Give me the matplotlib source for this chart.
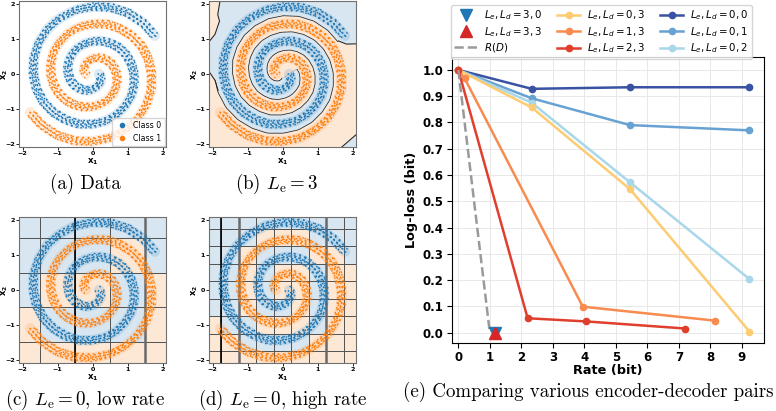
import numpy as np
import matplotlib.pyplot as plt
from matplotlib.colors import ListedColormap
from matplotlib.lines import Line2D
from matplotlib.transforms import ScaledTranslation

W, H, DPI = 776, 411, 100

# spiral arm centre lines
blue_x = [1.78, 1.46, 1.01, 0.51, 0.00, -0.49, -0.93, -1.29, -1.54, -1.68, -1.69, -1.60,
          -1.40, -1.11, -0.76, -0.39, 0.00, 0.36, 0.68, 0.93, 1.11, 1.19, 1.19, 1.11, 0.96,
          0.76, 0.51, 0.26, 0.00, -0.23, -0.43, -0.58, -0.67, -0.71, -0.69, -0.63, -0.53,
          -0.40, -0.26, -0.13, 0.00, 0.10, 0.18, 0.23, 0.24, 0.23, 0.19]
blue_y = [1.10, 1.46, 1.76, 1.92, 1.94, 1.84, 1.61, 1.29, 0.89, 0.45, 0.00, -0.43,
          -0.81, -1.11, -1.32, -1.44, -1.44, -1.36, -1.18, -0.93, -0.64, -0.32, 0.00, 0.30, 0.56,
          0.76, 0.89, 0.95, 0.94, 0.87, 0.75, 0.58, 0.39, 0.19, 0.00, -0.17, -0.31,
          -0.40, -0.46, -0.47, -0.44, -0.39, -0.31, -0.23, -0.14, -0.06, 0.00]
orange_x = [-1.78, -1.46, -1.01, -0.51, 0.00, 0.49, 0.93, 1.29, 1.54, 1.68, 1.69, 1.60,
            1.40, 1.11, 0.76, 0.39, 0.00, -0.36, -0.68, -0.93, -1.11, -1.19, -1.19, -1.11, -0.96,
            -0.76, -0.51, -0.26, 0.00, 0.23, 0.43, 0.58, 0.67, 0.71, 0.69, 0.63, 0.53,
            0.40, 0.26, 0.13, 0.00, -0.10, -0.18, -0.23, -0.24, -0.23, -0.19]
orange_y = [-1.10, -1.46, -1.76, -1.92, -1.94, -1.84, -1.61, -1.29, -0.89, -0.45, 0.00, 0.43,
            0.81, 1.11, 1.32, 1.44, 1.44, 1.36, 1.18, 0.93, 0.64, 0.32, 0.00, -0.30, -0.56,
            -0.76, -0.89, -0.95, -0.94, -0.87, -0.75, -0.58, -0.39, -0.19, 0.00, 0.17, 0.31,
            0.40, 0.46, 0.47, 0.44, 0.39, 0.31, 0.23, 0.14, 0.06, 0.00]

# panel (b): extra class-0 region at the top and its boundary lines
top_x = [-1.77, -1.85, -1.80, -1.93, -2.2, -2.2, -1.90, -1.60, -1.69, -1.68, -1.54, -1.29,
         -0.93, -0.49, 0.00, 0.51, 1.01, 1.46, 1.60, 1.83, 2.2, 2.2]
top_y = [2.2, 1.71, 1.52, 1.14, 0.80, 0.19, -0.20, -0.43, 0.00, 0.45, 0.89, 1.29,
         1.61, 1.84, 1.94, 1.92, 1.76, 1.46, 0.95, 0.86, 0.87, 2.2]
edge_left_x = [-1.77, -1.85, -1.80, -1.93, -2.2]
edge_left_y = [2.2, 1.71, 1.52, 1.14, 0.80]
edge_left2_x = [-2.2, -1.93, -1.84]
edge_left2_y = [0.22, -0.18, -0.47]
edge_right_x = [1.60, 1.83, 2.2]
edge_right_y = [0.95, 0.86, 0.87]
corner_x = [1.58, 2.2, 2.2]
corner_y = [-2.2, -2.2, -1.66]

# panel (c): quantiser cells, rows bottom -> top, 1 = class 0
c_edges = [-2.1, -1.5, -0.5, 0.5, 1.5, 2.1]
c_cells = [[0, 0, 0, 0, 0],
           [0, 1, 1, 1, 0],
           [1, 0, 0, 1, 0],
           [1, 1, 1, 0, 1],
           [1, 1, 1, 1, 1]]
c_dark = [-0.5]
c_thick = [1.5]

# panel (d)
d_edges = [-2.1, -1.75, -1.25, -0.75, -0.25, 0.25, 0.75, 1.25, 1.75, 2.1]
d_cells = [[0, 0, 0, 0, 0, 0, 0, 0, 0],
           [0, 0, 1, 1, 1, 1, 0, 0, 0],
           [0, 1, 1, 0, 0, 0, 1, 0, 0],
           [1, 1, 0, 1, 1, 0, 1, 0, 0],
           [1, 1, 0, 1, 0, 0, 1, 0, 0],
           [1, 1, 0, 1, 0, 0, 1, 0, 0],
           [1, 1, 0, 1, 1, 1, 0, 0, 1],
           [1, 1, 1, 0, 0, 0, 1, 1, 1],
           [1, 1, 1, 1, 1, 1, 1, 1, 1]]
d_dark = [-1.75]
d_thick = [-1.25, 1.25]

# panel (e): rate / log-loss
rate_00 = [0.0, 2.33, 5.45, 9.24]
loss_00 = [1.0, 0.928, 0.934, 0.934]
rate_01 = [0.0, 2.33, 5.45, 9.24]
loss_01 = [1.0, 0.892, 0.790, 0.770]
rate_02 = [0.0, 2.33, 5.45, 9.24]
loss_02 = [1.0, 0.875, 0.572, 0.204]
rate_03 = [0.0, 2.33, 5.45, 9.24]
loss_03 = [1.0, 0.857, 0.546, 0.004]
rate_13 = [0.0, 0.2, 3.95, 8.15]
loss_13 = [1.0, 0.968, 0.099, 0.046]
rate_23 = [0.0, 2.2, 4.05, 7.2]
loss_23 = [1.0, 0.055, 0.043, 0.016]
rd_rate = [0.0, 1.0]
rd_loss = [1.0, 0.0]
pt_30 = (1.17, 0.0)
pt_33 = (1.17, 0.0)

BLUE, ORANGE = '#1f77b4', '#ff7f0e'
BLUE_BG, ORANGE_BG = '#d7e6f1', '#fde8d6'

fig = plt.figure(figsize=(W / DPI, H / DPI), dpi=DPI)


def px_axes(l, t, r, b):
    return fig.add_axes([l / W, 1 - b / H, (r - l) / W, (b - t) / H])


def lw_units(ax, u):
    # line width in points that covers u data units
    ppu = ax.get_position().width * W / (ax.get_xlim()[1] - ax.get_xlim()[0])
    return u * ppu * 72 / DPI


def style_small(ax):
    ax.set_xlim(-2.1, 2.1)
    ax.set_ylim(-2.1, 2.1)
    ax.set_xticks([-2, -1, 0, 1, 2])
    ax.set_yticks([-2, -1, 0, 1, 2])
    ax.tick_params(labelsize=4.6, length=2, width=0.6, pad=1)
    for lab in ax.get_xticklabels() + ax.get_yticklabels():
        lab.set_fontweight('bold')
    for s in ax.spines.values():
        s.set_color('#707070')
        s.set_linewidth(0.8)
    ax.set_xlabel(r'$\mathbf{x}_\mathbf{1}$', fontsize=6.2, labelpad=0)
    ax.set_ylabel(r'$\mathbf{x}_\mathbf{2}$', fontsize=6.0)
    ax.yaxis.set_label_coords(-0.058, 0.5)


# screen offsets (pt), dash phase and gap used to break each arm into a dot cloud
jitter = [(0.0, 0.0, 0.0, 2.3), (-1.6, 1.4, 0.9, 2.7), (1.5, -1.3, 1.7, 2.5),
          (0.6, 2.6, 0.5, 3.1), (-0.7, -2.7, 1.3, 2.9), (2.8, 0.7, 2.1, 3.3),
          (-2.9, -0.6, 1.1, 3.0), (2.0, 2.2, 0.3, 3.6), (-2.1, -2.0, 1.9, 3.4)]


def draw_spirals(ax):
    for xs, ys, c in [(blue_x, blue_y, BLUE), (orange_x, orange_y, ORANGE)]:
        ax.plot(xs, ys, color=c, lw=lw_units(ax, 0.3), alpha=0.15,
                solid_capstyle='round', solid_joinstyle='round', zorder=3)
        for dx, dy, ph, gap in jitter:
            tr = ax.transData + ScaledTranslation(dx / 72, dy / 72, fig.dpi_scale_trans)
            ax.plot(xs, ys, color=c, lw=1.1, ls=(ph, (0.3, gap)),
                    dash_capstyle='round', transform=tr, zorder=4)


def cells(ax, edges, grid, dark, thick):
    ax.pcolormesh(edges, edges, np.array(grid), cmap=ListedColormap([ORANGE_BG, BLUE_BG]),
                  vmin=0, vmax=1, edgecolors='#555555', linewidth=0.6, zorder=1)
    for x in dark:
        ax.axvline(x, color='black', lw=1.2, zorder=2)
    for x in thick:
        ax.axvline(x, color='#6a6a6a', lw=1.8, zorder=2)


# (a)
ax_a = px_axes(19, 1, 166, 147)
style_small(ax_a)
draw_spirals(ax_a)
ax_a.legend([Line2D([], [], ls='', marker='o', ms=3.0, color=BLUE),
             Line2D([], [], ls='', marker='o', ms=3.0, color=ORANGE)],
            ['Class 0', 'Class 1'], loc='lower right', fontsize=5.6,
            handlelength=1.6, handletextpad=0.7, borderaxespad=0.1,
            borderpad=0.45, labelspacing=0.45, framealpha=0.8)

# (b)
ax_b = px_axes(209, 1, 356, 147)
style_small(ax_b)
ax_b.set_facecolor(ORANGE_BG)
ax_b.plot(blue_x, blue_y, color='#222222', lw=lw_units(ax_b, 0.5) + 1.1,
          solid_joinstyle='round', solid_capstyle='butt', zorder=1)
ax_b.plot(blue_x, blue_y, color=BLUE_BG, lw=lw_units(ax_b, 0.5),
          solid_joinstyle='round', solid_capstyle='butt', zorder=1.1)
ax_b.fill(top_x, top_y, color=BLUE_BG, lw=0, zorder=1.2)
ax_b.fill(corner_x, corner_y, color=BLUE_BG, lw=0, zorder=1.2)
for ex, ey in [(edge_left_x, edge_left_y), (edge_left2_x, edge_left2_y),
               (edge_right_x, edge_right_y), (corner_x[:1] + corner_x[2:], corner_y[:1] + corner_y[2:])]:
    ax_b.plot(ex, ey, color='#222222', lw=0.75, zorder=1.3)
draw_spirals(ax_b)
ax_b.set_xlim(-2.1, 2.1)
ax_b.set_ylim(-2.1, 2.1)

# (c)
ax_c = px_axes(19, 216.7, 166, 363.3)
style_small(ax_c)
cells(ax_c, c_edges, c_cells, c_dark, c_thick)
draw_spirals(ax_c)

# (d)
ax_d = px_axes(209, 216.7, 356, 363.3)
style_small(ax_d)
cells(ax_d, d_edges, d_cells, d_dark, d_thick)
draw_spirals(ax_d)

# (e)
ax_e = px_axes(451.7, 57.3, 764.3, 342.7)
ax_e.grid(True, color='#e8e8e8', lw=0.7, zorder=0)
ax_e.set_axisbelow(True)
col = {'00': '#3a52a3', '01': '#67a2d3', '02': '#a9d7ea',
       '03': '#fdcb72', '13': '#f88b4f', '23': '#df3f2c'}
series = [('00', rate_00, loss_00), ('01', rate_01, loss_01), ('02', rate_02, loss_02),
          ('03', rate_03, loss_03), ('13', rate_13, loss_13), ('23', rate_23, loss_23)]
handles = {}
for key, xr, yl in series:
    handles[key], = ax_e.plot(xr, yl, color=col[key], lw=1.8, marker='o', ms=4.5, zorder=3)
handles['rd'], = ax_e.plot(rd_rate, rd_loss, color='#9a9a9a', lw=1.8, ls='--', zorder=4)
handles['30'], = ax_e.plot([pt_30[0]], [pt_30[1]], ls='', marker='v', ms=8.5, color='#1f77b4', zorder=5)
handles['33'], = ax_e.plot([pt_33[0]], [pt_33[1]], ls='', marker='^', ms=8.5, color='#d62728', zorder=6)
ax_e.set_xlim(-0.21, 9.71)
ax_e.set_ylim(-0.038, 1.048)
ax_e.set_xticks(range(10))
ax_e.set_yticks(np.arange(0, 1.01, 0.1))
ax_e.yaxis.set_major_formatter(plt.FormatStrFormatter('%.1f'))
ax_e.tick_params(labelsize=8.5, length=3.5, pad=2.5)
for lab in ax_e.get_xticklabels() + ax_e.get_yticklabels():
    lab.set_fontweight('bold')
ax_e.set_xlabel('Rate (bit)', fontsize=9.3, fontweight='bold', labelpad=0)
ax_e.set_ylabel('Log-loss (bit)', fontsize=9.3, fontweight='bold', labelpad=3)

order = ['30', '33', 'rd', '03', '13', '23', '00', '01', '02']
labels = {'30': r'$L_e, L_d = 3, 0$', '33': r'$L_e, L_d = 3, 3$', 'rd': r'$R(D)$',
          '03': r'$L_e, L_d = 0, 3$', '13': r'$L_e, L_d = 1, 3$', '23': r'$L_e, L_d = 2, 3$',
          '00': r'$L_e, L_d = 0, 0$', '01': r'$L_e, L_d = 0, 1$', '02': r'$L_e, L_d = 0, 2$'}
fig.legend([handles[k] for k in order], [labels[k] for k in order], ncol=3,
           loc='upper left', bbox_to_anchor=(450.7 / W, 1 - 5 / H), fontsize=7.4,
           handlelength=2.2, handletextpad=0.7, columnspacing=1.45, labelspacing=0.25,
           borderpad=0.35, borderaxespad=0, edgecolor='#cccccc', fancybox=True)

# captions
cap = dict(ha='center', va='center', fontsize=13.6, fontfamily='cmr10', math_fontfamily='cm')
fig.text(85 / W, 1 - 184 / H, '(a) Data', **cap)
fig.text(277 / W, 1 - 184 / H, r'(b) $L_{\mathrm{e}} = 3$', **cap)
fig.text(85 / W, 1 - 400 / H, r'(c) $L_{\mathrm{e}} = 0$, low rate', **cap)
fig.text(283 / W, 1 - 400 / H, r'(d) $L_{\mathrm{e}} = 0$, high rate', **cap)
fig.text(588 / W, 1 - 392 / H, '(e) Comparing various encoder-decoder pairs', **cap)

fig.savefig('out.png', dpi=DPI)
